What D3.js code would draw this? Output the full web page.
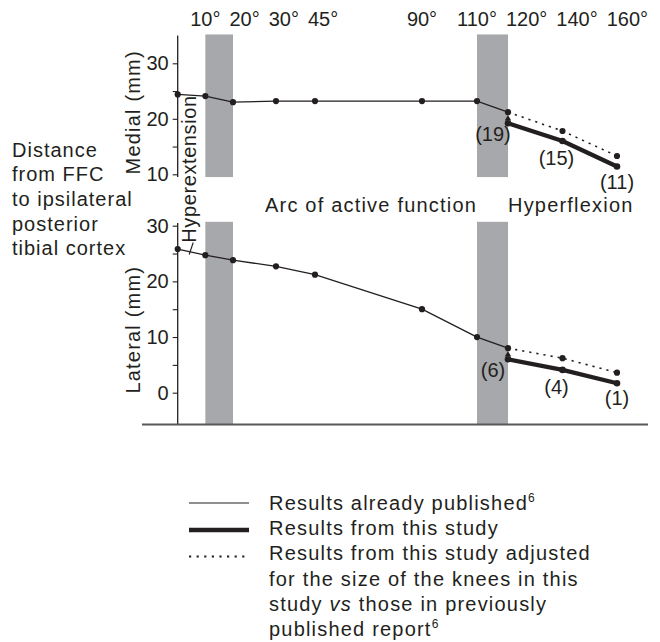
<!DOCTYPE html>
<html><head><meta charset="utf-8">
<script src="https://cdn.jsdelivr.net/npm/d3@7"></script>
<style>
body{margin:0;background:#fff}
svg{display:block}
text{font-family:"Liberation Sans",Arial,Helvetica,sans-serif;fill:#231f20}
</style>
</head><body><svg id="c" width="660" height="642"></svg>
<script>
// ---------- data ----------
const labelAngles = [10, 20, 30, 45, 90, 110, 120, 140, 160];
const publishedAngles = [0, 10, 20, 30, 45, 90, 110, 120];
const medialPublished = [24.4, 24.1, 23.0, 23.2, 23.2, 23.2, 23.2, 21.2];
const lateralPublished = [25.8, 24.7, 23.8, 22.7, 21.2, 15.0, 10.0, 8.0];
const studyAngles = [120, 140, 160];
const medialStudy = [19.2, 16.0, 11.4];
const lateralStudy = [6.0, 4.1, 1.7];
const medialAdjusted = [21.2, 17.8, 13.3];
const lateralAdjusted = [8.0, 6.2, 3.6];
const medialCounts = ["(19)", "(15)", "(11)"];
const lateralCounts = ["(6)", "(4)", "(1)"];
const shadedArcs = [[10, 20], [110, 120]];
const medialTicks = [10, 15, 20, 25, 30];
const lateralTicks = [0, 5, 10, 15, 20, 25, 30];
const majorTicks = [0, 10, 20, 30];
const sideLabel = ["Distance", "from FFC", "to ipsilateral", "posterior", "tibial cortex"];
const legendLabels = [
  [["Results already published", ""], ["6", "sup"]],
  [["Results from this study", ""]],
  [["Results from this study adjusted", ""]],
  [["for the size of the knees in this", ""]],
  [["study ", ""], ["vs", "it"], [" those in previously", ""]],
  [["published report", ""], ["6", "sup"]]
];

// ---------- layout ----------
const svg = d3.select("#c");
const ink = "#231f20", shade = "#a7a8ab";
const LS = "1.2px";

// x axis of the original figure is not uniform in degrees: piecewise-linear scale
const x = d3.scaleLinear()
  .domain([0, 20, 30, 45, 90, 110, 120, 160])
  .range([177.7, 233, 276, 315, 422, 477, 508, 617]);

const panels = [
  {name: "Medial (mm)", y: d3.scaleLinear().domain([10, 30]).range([174.3, 63.3]),
   ext: [9.5, 35.2], axisExt: [9.5, 35], ticks: medialTicks,
   pub: medialPublished, study: medialStudy, adj: medialAdjusted, counts: medialCounts},
  {name: "Lateral (mm)", y: d3.scaleLinear().domain([0, 30]).range([392.7, 225.7]),
   ext: [-5.7, 30.7], axisExt: [-5.7, 30.5], ticks: lateralTicks,
   pub: lateralPublished, study: lateralStudy, adj: lateralAdjusted, counts: lateralCounts}
];
const countOffsets = {120: [-15, 18], 140: [-6, 24], 160: [0, 22]};

const line = (y) => d3.line().x(d => x(d[0])).y(d => y(d[1]));

panels.forEach(p => {
  const y = p.y;
  const g = svg.append("g");
  g.selectAll("rect.shade").data(shadedArcs).join("rect")
    .attr("x", d => x(d[0])).attr("width", d => x(d[1]) - x(d[0]))
    .attr("y", y(p.ext[1])).attr("height", y(p.ext[0]) - y(p.ext[1]))
    .attr("fill", shade);
  const ax = g.append("g").attr("transform", `translate(${x(0)},0)`)
    .call(d3.axisLeft(y).tickValues(p.ticks).tickSize(5).tickPadding(4)
      .tickFormat(d => majorTicks.includes(d) ? d : ""));
  ax.select(".domain").remove();
  ax.selectAll("line").attr("stroke", ink).attr("stroke-width", 1.1);
  ax.selectAll("text").style("font-size", "20px").attr("fill", ink);
  g.append("line").attr("x1", x(0)).attr("x2", x(0))
    .attr("y1", y(p.axisExt[1])).attr("y2", y(p.axisExt[0]))
    .attr("stroke", ink).attr("stroke-width", 1.3);
  const yc = (y(p.axisExt[1]) + y(p.axisExt[0])) / 2;
  g.append("text").attr("transform", `translate(140,${yc + 6}) rotate(-90)`)
    .attr("text-anchor", "middle").style("font-size", "20px").style("letter-spacing", LS)
    .text(p.name);

  const pubData = publishedAngles.map((a, i) => [a, p.pub[i]]);
  const studyData = studyAngles.map((a, i) => [a, p.study[i]]);
  const adjData = studyAngles.map((a, i) => [a, p.adj[i]]);

  g.append("path").datum(pubData).attr("d", line(y)).attr("fill", "none")
    .attr("stroke", ink).attr("stroke-width", 1.3);
  g.append("path").datum(adjData).attr("d", line(y)).attr("fill", "none")
    .attr("stroke", ink).attr("stroke-width", 1.6).attr("stroke-dasharray", "2.2,5");
  g.append("path").datum(studyData).attr("d", line(y)).attr("fill", "none")
    .attr("stroke", ink).attr("stroke-width", 4.3).attr("stroke-linecap", "round");

  g.selectAll("circle.pub").data(pubData).join("circle")
    .attr("cx", d => x(d[0])).attr("cy", d => y(d[1])).attr("r", 3.1).attr("fill", ink);
  g.selectAll("circle.adj").data(adjData.slice(1)).join("circle")
    .attr("cx", d => x(d[0])).attr("cy", d => y(d[1])).attr("r", 3.1).attr("fill", ink);
  g.selectAll("circle.st").data(studyData).join("circle")
    .attr("cx", d => x(d[0])).attr("cy", d => y(d[1])).attr("r", 3.3).attr("fill", ink);
  g.append("path").attr("d", d3.symbol(d3.symbolTriangle).size(18)())
    .attr("transform", `translate(${x(120)},${(y(p.adj[0]) + y(p.study[0])) / 2 + 1})`)
    .attr("fill", ink);

  g.selectAll("text.cnt").data(studyAngles).join("text")
    .attr("x", a => x(a) + countOffsets[a][0])
    .attr("y", (a, i) => y(p.study[i]) + countOffsets[a][1])
    .attr("text-anchor", "middle").style("font-size", "20px")
    .text((a, i) => p.counts[i]);
});

const yL = panels[1].y;
svg.append("line").attr("x1", 142).attr("x2", 648)
  .attr("y1", yL(panels[1].ext[0])).attr("y2", yL(panels[1].ext[0]))
  .attr("stroke", "#58595b").attr("stroke-width", 2);

// top degree labels (axis, de-overlapped like the original)
const topAxis = svg.append("g").attr("transform", "translate(0,26)")
  .call(d3.axisTop(x).tickValues(labelAngles).tickSize(0).tickPadding(0)
    .tickFormat(d => d + "°"));
topAxis.select(".domain").remove();
topAxis.selectAll("text").style("font-size", "20px").attr("fill", ink).attr("dy", 0);
let prevR = -Infinity;
topAxis.selectAll(".tick").each(function(d) {
  const t = d3.select(this).select("text");
  const w = t.node().getComputedTextLength();
  let cx = x(d);
  if (cx - w / 2 < prevR + 9) cx = prevR + 9 + w / 2;
  prevR = cx + w / 2;
  d3.select(this).attr("transform", `translate(${cx},0)`);
});

svg.append("text").attr("transform", `translate(${x(0) + 18.5},169) rotate(-90)`)
  .attr("text-anchor", "middle").style("font-size", "20px").style("letter-spacing", "0.6px")
  .text("Hyperextension");
svg.append("line").attr("x1", x(0) + 11.5).attr("y1", 254.5).attr("x2", x(0) + 15.5).attr("y2", 242.5)
  .attr("stroke", ink).attr("stroke-width", 1.1);
svg.append("text").attr("x", x(20) + 32).attr("y", 211.5)
  .style("font-size", "20px").style("letter-spacing", LS).text("Arc of active function");
svg.append("text").attr("x", x(120)).attr("y", 211.5)
  .style("font-size", "20px").style("letter-spacing", LS).text("Hyperflexion");

svg.append("g").selectAll("text").data(sideLabel).join("text")
  .attr("x", 12).attr("y", (d, i) => 156.7 + i * 24.6)
  .style("font-size", "20px").style("letter-spacing", "1px").text(d => d);

const lg = svg.append("g");
const legendStyles = [
  {w: 1.2, dash: null}, {w: 4.3, dash: null}, {w: 2.2, dash: "2.2,5.4"}
];
const legendRows = [503, 530, 556.5];
legendStyles.forEach((s, i) => {
  lg.append("line").attr("x1", 189).attr("x2", 249)
    .attr("y1", legendRows[i]).attr("y2", legendRows[i])
    .attr("stroke", ink).attr("stroke-width", s.w)
    .attr("stroke-dasharray", s.dash);
});
legendLabels.forEach((parts, i) => {
  const t = lg.append("text").attr("x", 269).attr("y", 510 + i * 25.2)
    .style("font-size", "20px").style("letter-spacing", LS);
  parts.forEach(([txt, kind]) => {
    const ts = t.append("tspan").text(txt);
    if (kind === "sup") ts.style("font-size", "12px").attr("dy", -8).style("letter-spacing", "0px");
    if (kind === "it") ts.style("font-style", "italic");
  });
});
</script>
</body></html>
